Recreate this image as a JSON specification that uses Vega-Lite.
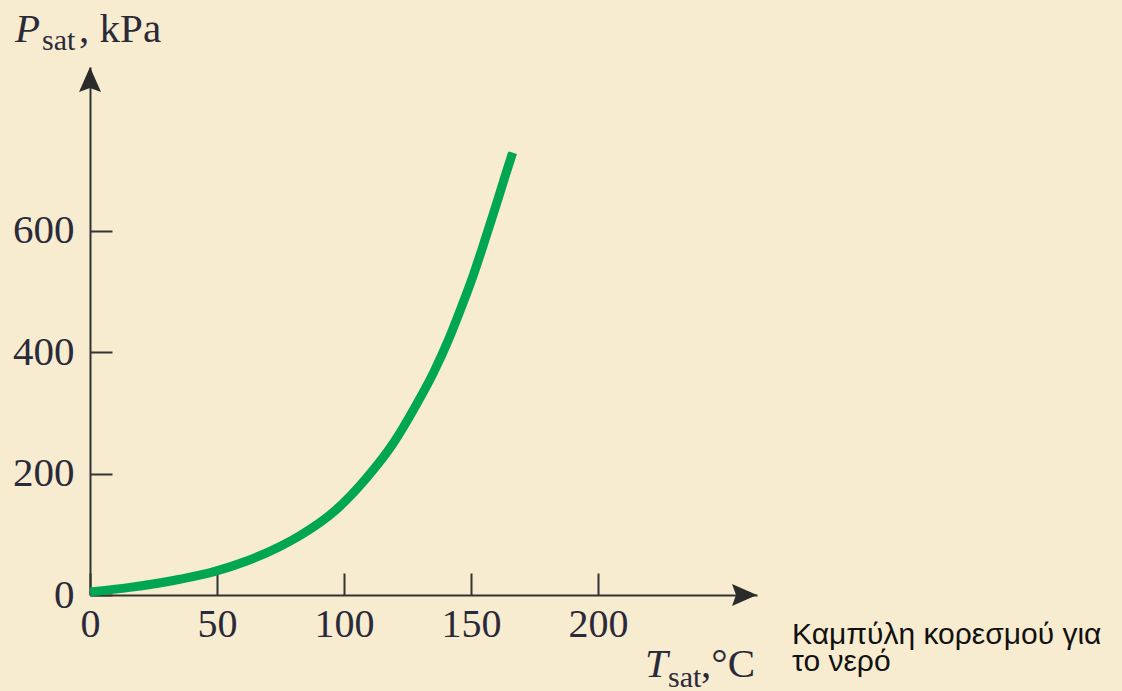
{
  "$schema": "https://vega.github.io/schema/vega-lite/v6.json",
  "autosize": "none",
  "width": 667,
  "height": 528,
  "padding": {"left": 90, "top": 67, "right": 365, "bottom": 96},
  "background": "#f8ecd0",
  "config": {"view": {"stroke": null}},
  "layer": [
    {
      "data": {"values": [
        {"T": 0, "P": 5},
        {"T": 15.7, "P": 12.5},
        {"T": 35.4, "P": 26},
        {"T": 49.2, "P": 39},
        {"T": 61.7, "P": 56},
        {"T": 74.8, "P": 80},
        {"T": 82.7, "P": 98},
        {"T": 96.5, "P": 139},
        {"T": 108.9, "P": 193},
        {"T": 119.4, "P": 250},
        {"T": 128, "P": 310},
        {"T": 135.2, "P": 366},
        {"T": 141.1, "P": 420},
        {"T": 146.3, "P": 475},
        {"T": 150.9, "P": 527},
        {"T": 155.5, "P": 585},
        {"T": 159.7, "P": 640},
        {"T": 163.8, "P": 695},
        {"T": 166.4, "P": 729}
      ]},
      "mark": {"type": "line", "color": "#00a651", "strokeWidth": 9, "interpolate": "monotone", "strokeCap": "butt"},
      "encoding": {
        "x": {
          "field": "T", "type": "quantitative",
          "scale": {"domain": [0, 262.6], "nice": false, "zero": false},
          "axis": {
            "values": [0, 50, 100, 150, 200], "grid": false, "title": null,
            "domainColor": "#333333", "domainWidth": 2,
            "tickColor": "#333333", "tickWidth": 2, "tickSize": -22,
            "labelFont": "Liberation Serif", "labelFontSize": 40, "labelColor": "#2a2a38",
            "labelPadding": 31, "labelFlush": false, "labelOverlap": false, "labelBound": false
          }
        },
        "y": {
          "field": "P", "type": "quantitative",
          "scale": {"domain": [0, 870], "nice": false, "zero": false},
          "axis": {
            "values": [0, 200, 400, 600], "grid": false, "title": null,
            "domainColor": "#333333", "domainWidth": 2,
            "tickColor": "#333333", "tickWidth": 2, "tickSize": -22,
            "labelFont": "Liberation Serif", "labelFontSize": 41, "labelColor": "#2a2a38",
            "labelPadding": 38, "labelFlush": false, "labelOverlap": false, "labelBound": false
          }
        }
      }
    },
    {
      "data": {"values": [{}]},
      "mark": {"type": "point", "shape": "M0,0 L-1,-0.44 L-0.84,0 L-1,0.44 Z", "size": 2500, "filled": true, "color": "#2b2b2b", "opacity": 1, "strokeWidth": 0},
      "encoding": {"x": {"datum": 262.6}, "y": {"datum": 0}}
    },
    {
      "data": {"values": [{}]},
      "mark": {"type": "point", "shape": "M0,0 L0.44,1 L0,0.84 L-0.44,1 Z", "size": 2500, "filled": true, "color": "#2b2b2b", "opacity": 1, "strokeWidth": 0},
      "encoding": {"x": {"datum": 0}, "y": {"datum": 870}}
    },
    {
      "data": {"values": [{}]},
      "mark": {"type": "text", "text": "P", "font": "Liberation Serif", "fontStyle": "italic", "fontSize": 41, "color": "#2a2a38", "align": "left", "baseline": "alphabetic"},
      "encoding": {"x": {"datum": -29.5}, "y": {"datum": 911}}
    },
    {
      "data": {"values": [{}]},
      "mark": {"type": "text", "text": "sat", "font": "Liberation Serif", "fontSize": 30, "color": "#2a2a38", "align": "left", "baseline": "alphabetic"},
      "encoding": {"x": {"datum": -18.9}, "y": {"datum": 898}}
    },
    {
      "data": {"values": [{}]},
      "mark": {"type": "text", "text": ", kPa", "font": "Liberation Serif", "fontSize": 41, "color": "#2a2a38", "align": "left", "baseline": "alphabetic"},
      "encoding": {"x": {"datum": -4.3}, "y": {"datum": 911}}
    },
    {
      "data": {"values": [{}]},
      "mark": {"type": "text", "text": "T", "font": "Liberation Serif", "fontStyle": "italic", "fontSize": 41, "color": "#2a2a38", "align": "left", "baseline": "alphabetic"},
      "encoding": {"x": {"datum": 218.5}, "y": {"datum": -135}}
    },
    {
      "data": {"values": [{}]},
      "mark": {"type": "text", "text": "sat", "font": "Liberation Serif", "fontSize": 30, "color": "#2a2a38", "align": "left", "baseline": "alphabetic"},
      "encoding": {"x": {"datum": 227.6}, "y": {"datum": -151}}
    },
    {
      "data": {"values": [{}]},
      "mark": {"type": "text", "text": ",°C", "font": "Liberation Serif", "fontSize": 41, "color": "#2a2a38", "align": "left", "baseline": "alphabetic"},
      "encoding": {"x": {"datum": 240.6}, "y": {"datum": -135}}
    },
    {
      "data": {"values": [{}]},
      "mark": {"type": "text", "text": "Καμπύλη κορεσμού για\nτο νερό", "lineBreak": "\n", "lineHeight": 27, "font": "Liberation Sans", "fontSize": 30, "color": "#111111", "align": "left", "baseline": "alphabetic"},
      "encoding": {"x": {"datum": 276.4}, "y": {"datum": -80.2}}
    }
  ]
}
